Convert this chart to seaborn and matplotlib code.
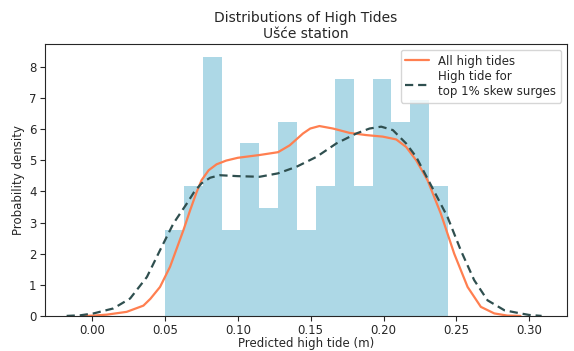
import numpy as np
import pandas as pd
import matplotlib
matplotlib.use("Agg")
import matplotlib.pyplot as plt
import seaborn as sns

# Istogramma: bordi dei bin e densità
bin_edges = list(np.linspace(0.050, 0.2443, 16))
bar_heights = [2.77, 4.16, 8.32, 2.77, 5.54, 3.47, 6.24, 2.77,
               4.16, 7.62, 4.16, 7.62, 6.24, 6.93, 4.16]

# Curva KDE "All high tides"
all_x = [-0.005, 0.001, 0.010, 0.0237, 0.0352, 0.040, 0.0466, 0.0535, 0.0627,
         0.0673, 0.0715, 0.0751, 0.080, 0.0854, 0.092, 0.100, 0.115, 0.1276,
         0.1356, 0.1447, 0.1497, 0.156, 0.1653, 0.1767, 0.188, 0.1995, 0.2087,
         0.2155, 0.2224, 0.2302, 0.2393, 0.2485, 0.2577, 0.2668, 0.276, 0.285, 0.294]
all_y = [0.0, 0.01, 0.04, 0.13, 0.33, 0.55, 0.93, 1.58, 2.76,
         3.40, 3.95, 4.36, 4.68, 4.87, 4.99, 5.08, 5.17, 5.26,
         5.48, 5.86, 6.02, 6.10, 6.02, 5.88, 5.81, 5.76, 5.67,
         5.43, 5.00, 4.36, 3.29, 2.00, 0.93, 0.29, 0.08, 0.01, 0.0]

# Curva KDE "top 1% skew surges"
top_x = [-0.0175, -0.008, 0.001, 0.0146, 0.0261, 0.0376, 0.0466, 0.0558, 0.065,
         0.070, 0.0751, 0.081, 0.0877, 0.100, 0.115, 0.1276, 0.1402, 0.154,
         0.1676, 0.1813, 0.1904, 0.1984, 0.2064, 0.2155, 0.2224, 0.2320, 0.2439,
         0.253, 0.2622, 0.2714, 0.283, 0.294, 0.300, 0.3085]
top_y = [0.0, 0.02, 0.08, 0.24, 0.56, 1.25, 2.11, 2.97, 3.61,
         3.98, 4.26, 4.44, 4.52, 4.49, 4.47, 4.58, 4.79, 5.11,
         5.54, 5.86, 6.02, 6.08, 5.97, 5.54, 5.11, 4.25, 3.18,
         2.11, 1.15, 0.50, 0.18, 0.08, 0.03, 0.0]

sns.set_style("ticks")

fig, ax = plt.subplots(figsize=(5.74, 3.51), dpi=100)
fig.subplots_adjust(left=0.078, right=0.988, top=0.875, bottom=0.1)

# DataFrame per l'istogramma (centro del bin + peso = densità)
centers = [(a + b) / 2 for a, b in zip(bin_edges[:-1], bin_edges[1:])]
df_hist = pd.DataFrame({"tide": centers, "density": bar_heights})
sns.histplot(data=df_hist, x="tide", weights="density", bins=bin_edges, stat="count",
             color="lightblue", alpha=1, linewidth=0, ax=ax)

sns.lineplot(x=all_x, y=all_y, color="coral", linewidth=1.6, sort=False,
             label="All high tides", ax=ax)
sns.lineplot(x=top_x, y=top_y, color="darkslategray", linewidth=1.6, sort=False,
             linestyle=(0, (3.7, 2.2)), label="High tide for\ntop 1% skew surges", ax=ax)

ax.set_xlim(-0.0325, 0.326)
ax.set_ylim(0, 8.74)
ax.set_xticks(np.arange(0, 0.31, 0.05))
ax.set_yticks(range(0, 9))
ax.tick_params(labelsize=8.5, pad=2.5)

ax.set_title("Distributions of High Tides\nUšće station", fontsize=10, pad=4)
ax.set_xlabel("Predicted high tide (m)", fontsize=8.5, labelpad=0)
ax.set_ylabel("Probability density", fontsize=8.5, labelpad=3)

ax.legend(loc="upper right", fontsize=8.5, labelspacing=0.2)

plt.savefig("out.png", dpi=100)
